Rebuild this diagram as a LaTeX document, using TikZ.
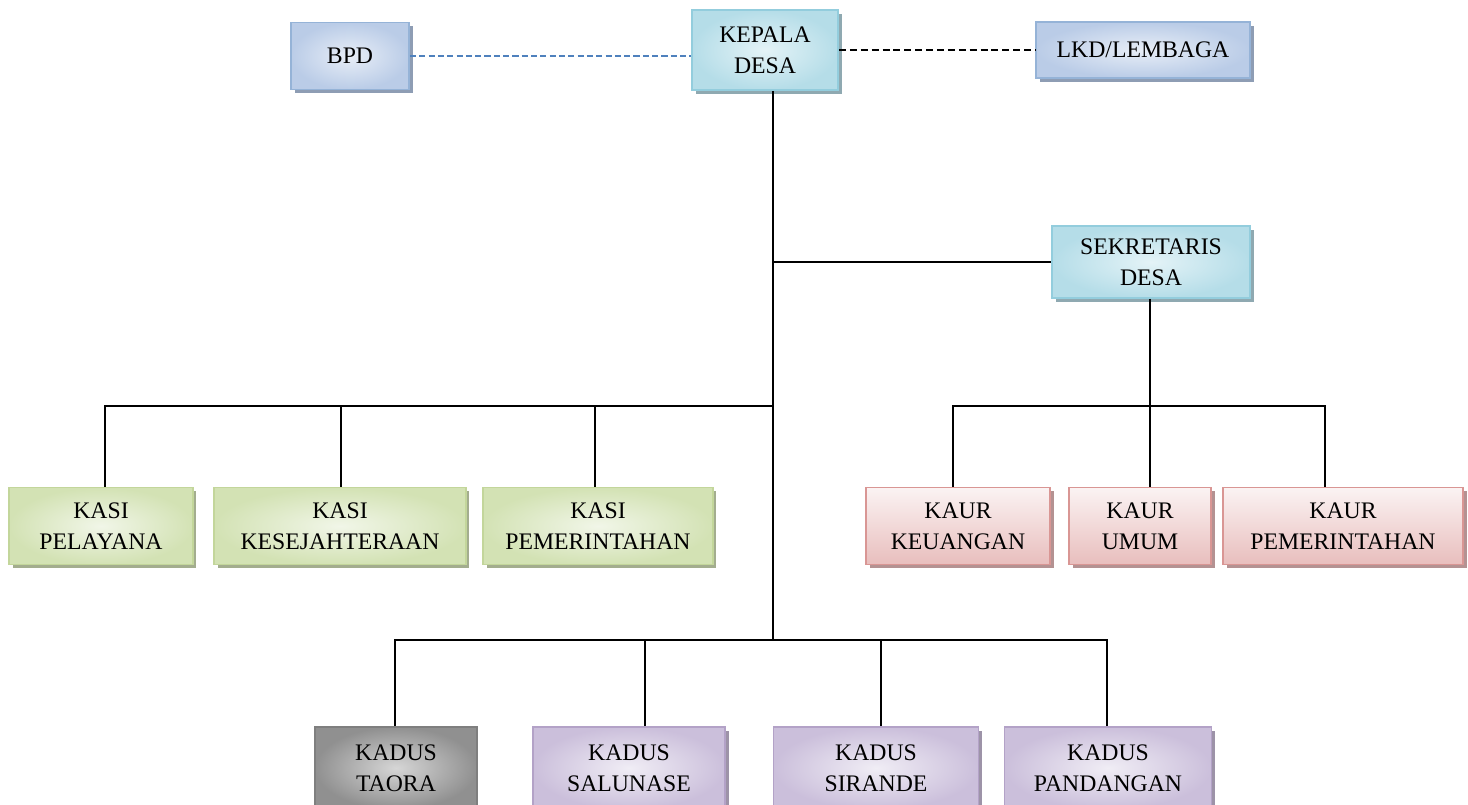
\documentclass[tikz,border=0pt]{standalone}
\usepackage{fontspec}
\setmainfont{Liberation Serif}
\usetikzlibrary{shadows}

\definecolor{bluedraw}{HTML}{95B3D7}
\definecolor{blueinner}{HTML}{E8EEF7}
\definecolor{blueouter}{HTML}{BACCE7}
\definecolor{blueshadow}{HTML}{8E9DB4}
\definecolor{cyandraw}{HTML}{93CDDD}
\definecolor{cyaninner}{HTML}{E4F3F7}
\definecolor{cyanouter}{HTML}{B5DDE8}
\definecolor{cyanshadow}{HTML}{8FA9B1}
\definecolor{greendraw}{HTML}{C3D69B}
\definecolor{greeninner}{HTML}{F1F6E8}
\definecolor{greenouter}{HTML}{D3E2B4}
\definecolor{greenshadow}{HTML}{A3AD8E}
\definecolor{reddraw}{HTML}{D99694}
\definecolor{redtop}{HTML}{FBF3F3}
\definecolor{redbottom}{HTML}{E8BEBD}
\definecolor{redshadow}{HTML}{B49292}
\definecolor{graydraw}{HTML}{7F7F7F}
\definecolor{grayinner}{HTML}{D6D6D6}
\definecolor{grayouter}{HTML}{909090}
\definecolor{purpledraw}{HTML}{B3A2C7}
\definecolor{purpleinner}{HTML}{F0EDF5}
\definecolor{purpleouter}{HTML}{CBBFDB}
\definecolor{purpleshadow}{HTML}{9D93A8}
\definecolor{bpdline}{HTML}{4F81BD}

\begin{document}
\begin{tikzpicture}[x=0.02cm,y=-0.02cm,line width=1.1pt,
	box/.style={rectangle,draw,line width=1.1pt,align=center,inner sep=0pt,
		font=\fontsize{13.5}{17.6}\selectfont},
	blue node/.style={box,draw=bluedraw,inner color=blueinner,outer color=blueouter,
		drop shadow={shadow xshift=2pt,shadow yshift=-2pt,fill=blueshadow,opacity=1}},
	cyan node/.style={box,draw=cyandraw,inner color=cyaninner,outer color=cyanouter,
		drop shadow={shadow xshift=2pt,shadow yshift=-2pt,fill=cyanshadow,opacity=1}},
	green node/.style={box,draw=greendraw,inner color=greeninner,outer color=greenouter,
		minimum height=1.54cm,
		drop shadow={shadow xshift=2pt,shadow yshift=-2pt,fill=greenshadow,opacity=1}},
	red node/.style={box,draw=reddraw,top color=redtop,bottom color=redbottom,
		minimum height=1.54cm,
		drop shadow={shadow xshift=2pt,shadow yshift=-2pt,fill=redshadow,opacity=1}},
	gray node/.style={box,draw=graydraw,inner color=grayinner,outer color=grayouter,
		minimum height=1.64cm},
	purple node/.style={box,draw=purpledraw,inner color=purpleinner,outer color=purpleouter,
		minimum height=1.64cm,
		drop shadow={shadow xshift=2pt,shadow yshift=-2pt,fill=purpleshadow,opacity=1}}]
	
	\useasboundingbox (0,0) rectangle (1468,805);
	
	% top row
	\node[blue node,minimum width=2.36cm,minimum height=1.34cm] (bpd) at (350,56) {BPD};
	\node[cyan node,minimum width=2.92cm,minimum height=1.6cm] (kepala) at (765,50) {KEPALA\\DESA};
	\node[blue node,minimum width=4.28cm,minimum height=1.12cm] (lkd) at (1143,50) {LKD/LEMBAGA};
	\node[cyan node,minimum width=3.96cm,minimum height=1.44cm] (sekdes) at (1151,262) {SEKRETARIS\\DESA};
	
	% kasi and kaur
	\node[green node,minimum width=3.68cm] (kasi1) at (101,526) {KASI\\PELAYANA};
	\node[green node,minimum width=5.04cm] (kasi2) at (340,526) {KASI\\KESEJAHTERAAN};
	\node[green node,minimum width=4.6cm] (kasi3) at (598,526) {KASI\\PEMERINTAHAN};
	\node[red node,minimum width=3.68cm] (kaur1) at (958,526) {KAUR\\KEUANGAN};
	\node[red node,minimum width=2.84cm] (kaur2) at (1140,526) {KAUR\\UMUM};
	\node[red node,minimum width=4.8cm] (kaur3) at (1343,526) {KAUR\\PEMERINTAHAN};
	
	% kadus
	\node[gray node,minimum width=3.24cm] (kadus1) at (396,768) {KADUS\\TAORA};
	\node[purple node,minimum width=3.84cm] (kadus2) at (629,768) {KADUS\\SALUNASE};
	\node[purple node,minimum width=4.1cm] (kadus3) at (876,768) {KADUS\\SIRANDE};
	\node[purple node,minimum width=4.14cm] (kadus4) at (1108,768) {KADUS\\PANDANGAN};
	
	\coordinate (t1) at (773,262);
	\coordinate (t2) at (773,406);
	\coordinate (t3) at (773,640);
	\coordinate (s1) at (1150,406);
	
	\draw[bpdline,dash pattern=on 3.5pt off 1.8pt] (bpd.east) -- (bpd.east -| kepala.west);
	\draw[dash pattern=on 4pt off 2.2pt] (lkd.west -| kepala.east) -- (lkd.west);
	
	\draw (kepala.south -| t1) -- (t3);
	\draw (t1) -- (sekdes);
	\draw (sekdes.south -| s1) -- (s1);
	\foreach \n/\x in {kasi1/105,kasi2/341,kasi3/595}
		\draw (\n.north -| \x,0) |- (t2);
	\foreach \n/\x in {kaur1/953,kaur2/1150,kaur3/1325}
		\draw (\n.north -| \x,0) |- (s1);
	\foreach \n/\x in {kadus1/395,kadus2/645,kadus3/881,kadus4/1107}
		\draw (\n.north -| \x,0) |- (t3);
	
\end{tikzpicture}
\end{document}
